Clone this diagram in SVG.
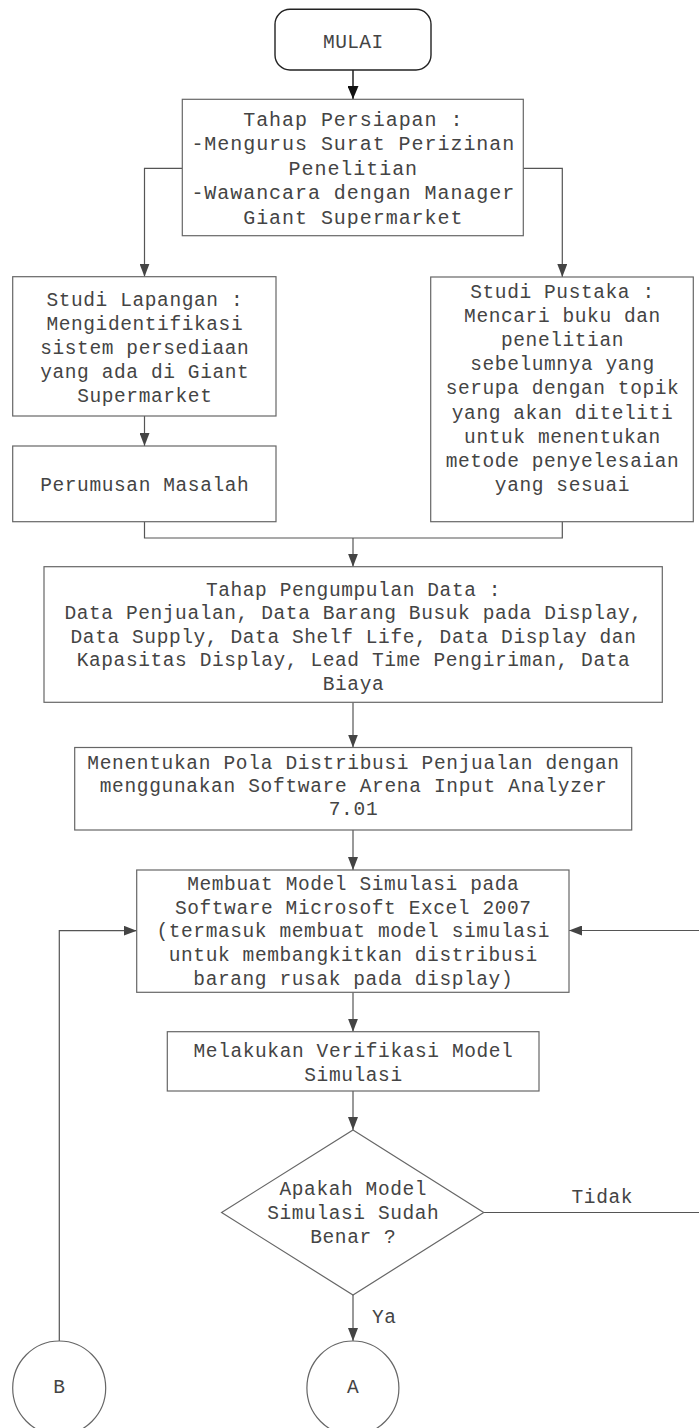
<svg xmlns="http://www.w3.org/2000/svg" width="699" height="1428" viewBox="0 0 699 1428">
  <style>
    .box { fill: #ffffff; stroke: #666666; stroke-width: 1.2; }
    .term { fill: #ffffff; stroke: #222222; stroke-width: 1.4; }
    .con { fill: none; stroke: #555555; stroke-width: 1.2; }
    .con-dark { fill: none; stroke: #111111; stroke-width: 1.4; }
    text { font-family: "Liberation Mono", "Courier New", monospace; fill: #444444; font-size: 19.5px; letter-spacing: 0.6px; text-anchor: middle; }
    .t19 { font-size: 20px; letter-spacing: 0.95px; }
  </style>
  <defs>
    <marker id="arr" markerUnits="userSpaceOnUse" markerWidth="13" markerHeight="10" refX="13" refY="5" orient="auto">
      <path d="M0,0 L13,5 L0,10 z" fill="#444444"/>
    </marker>
    <marker id="arrDark" markerUnits="userSpaceOnUse" markerWidth="13" markerHeight="11" refX="13" refY="5.5" orient="auto">
      <path d="M0,0 L13,5.5 L0,11 z" fill="#111111"/>
    </marker>
  </defs>
  <rect x="0" y="0" width="699" height="1428" fill="#ffffff"/>

  <g id="connectors">
    <path class="con-dark" d="M353,70 V99" marker-end="url(#arrDark)"/>
    <path class="con" d="M182.3,168.3 H144.5 V276.7" marker-end="url(#arr)"/>
    <path class="con" d="M523.3,168.3 H562.3 V277" marker-end="url(#arr)"/>
    <path class="con" d="M144.5,416 V446" marker-end="url(#arr)"/>
    <path class="con" d="M144.5,521.7 V538 H562.3 V521.7"/>
    <path class="con" d="M353,538 V566.7" marker-end="url(#arr)"/>
    <path class="con" d="M353,702.3 V747.5" marker-end="url(#arr)"/>
    <path class="con" d="M353,830 V870" marker-end="url(#arr)"/>
    <path class="con" d="M353,992.3 V1031.7" marker-end="url(#arr)"/>
    <path class="con" d="M353,1091 V1130" marker-end="url(#arr)"/>
    <path class="con" d="M483.7,1212.5 H699"/>
    <path class="con" d="M699,930.5 H569" marker-end="url(#arr)"/>
    <path class="con" d="M353,1295 V1341" marker-end="url(#arr)"/>
    <path class="con" d="M59.3,1341 V930.7 H136.7" marker-end="url(#arr)"/>
    <text x="602.3" y="1203">Tidak</text>
    <text x="384.3" y="1323">Ya</text>
  </g>

  <g id="mulai">
    <rect class="term" x="275" y="9.3" width="156" height="60.7" rx="15" ry="15"/>
    <text x="353.3" y="47.5" style="letter-spacing:0.4px">MULAI</text>
  </g>

  <g id="persiapan">
    <rect class="box" x="182.3" y="99.3" width="341" height="136.4"/>
    <text class="t19" x="353.3" y="126">Tahap Persiapan :</text>
    <text class="t19" x="353.3" y="150">-Mengurus Surat Perizinan</text>
    <text class="t19" x="353.3" y="174.8">Penelitian</text>
    <text class="t19" x="353.3" y="199.2">-Wawancara dengan Manager</text>
    <text class="t19" x="353.3" y="223.5">Giant Supermarket</text>
  </g>

  <g id="studi-lapangan">
    <rect class="box" x="12.7" y="276.7" width="263.3" height="139.3"/>
    <text x="144.8" y="306">Studi Lapangan :</text>
    <text x="144.8" y="330">Mengidentifikasi</text>
    <text x="144.8" y="354">sistem persediaan</text>
    <text x="144.8" y="378">yang ada di Giant</text>
    <text x="144.8" y="402">Supermarket</text>
  </g>

  <g id="perumusan">
    <rect class="box" x="12.7" y="446" width="263.3" height="75.7"/>
    <text x="144.8" y="491">Perumusan Masalah</text>
  </g>

  <g id="studi-pustaka">
    <rect class="box" x="430.7" y="277" width="262.6" height="244.7"/>
    <text x="562.5" y="297.7">Studi Pustaka :</text>
    <text x="562.5" y="321.7">Mencari buku dan</text>
    <text x="562.5" y="346">penelitian</text>
    <text x="562.5" y="370">sebelumnya yang</text>
    <text x="562.5" y="394">serupa dengan topik</text>
    <text x="562.5" y="418.5">yang akan diteliti</text>
    <text x="562.5" y="442.5">untuk menentukan</text>
    <text x="562.5" y="466.5">metode penyelesaian</text>
    <text x="562.5" y="490.5">yang sesuai</text>
  </g>

  <g id="pengumpulan">
    <rect class="box" x="44" y="566.7" width="618.3" height="135.6"/>
    <text x="353.5" y="596">Tahap Pengumpulan Data :</text>
    <text x="353.5" y="619.4">Data Penjualan, Data Barang Busuk pada Display,</text>
    <text x="353.5" y="642.8">Data Supply, Data Shelf Life, Data Display dan</text>
    <text x="353.5" y="666.2">Kapasitas Display, Lead Time Pengiriman, Data</text>
    <text x="353.5" y="689.6">Biaya</text>
  </g>

  <g id="pola-distribusi">
    <rect class="box" x="74.7" y="747.5" width="557" height="82.5"/>
    <text x="353.5" y="769" style="letter-spacing:0.68px">Menentukan Pola Distribusi Penjualan dengan</text>
    <text x="353.5" y="792" style="letter-spacing:0.68px">menggunakan Software Arena Input Analyzer</text>
    <text x="353.5" y="815" style="letter-spacing:0.68px">7.01</text>
  </g>

  <g id="model-simulasi">
    <rect class="box" x="136.7" y="870" width="432.3" height="122.3"/>
    <text x="353.3" y="889.5">Membuat Model Simulasi pada</text>
    <text x="353.3" y="913.5">Software Microsoft Excel 2007</text>
    <text x="353.3" y="937">(termasuk membuat model simulasi</text>
    <text x="353.3" y="961">untuk membangkitkan distribusi</text>
    <text x="353.3" y="984.5">barang rusak pada display)</text>
  </g>

  <g id="verifikasi">
    <rect class="box" x="167.3" y="1031.7" width="371.7" height="59.3"/>
    <text x="353.5" y="1056.5">Melakukan Verifikasi Model</text>
    <text x="353.5" y="1080.7">Simulasi</text>
  </g>

  <g id="keputusan">
    <polygon class="box" points="353,1130 483.7,1212.5 353,1295 221.6,1212.5"/>
    <text x="353.3" y="1195.3">Apakah Model</text>
    <text x="353.3" y="1218.7">Simulasi Sudah</text>
    <text x="353.3" y="1242.7">Benar ?</text>
  </g>

  <g id="konektor-b">
    <ellipse class="box" cx="59.2" cy="1388" rx="46.5" ry="47"/>
    <text x="59.5" y="1393">B</text>
  </g>

  <g id="konektor-a">
    <ellipse class="box" cx="352.9" cy="1388" rx="46" ry="47"/>
    <text x="353.2" y="1393">A</text>
  </g>
</svg>
